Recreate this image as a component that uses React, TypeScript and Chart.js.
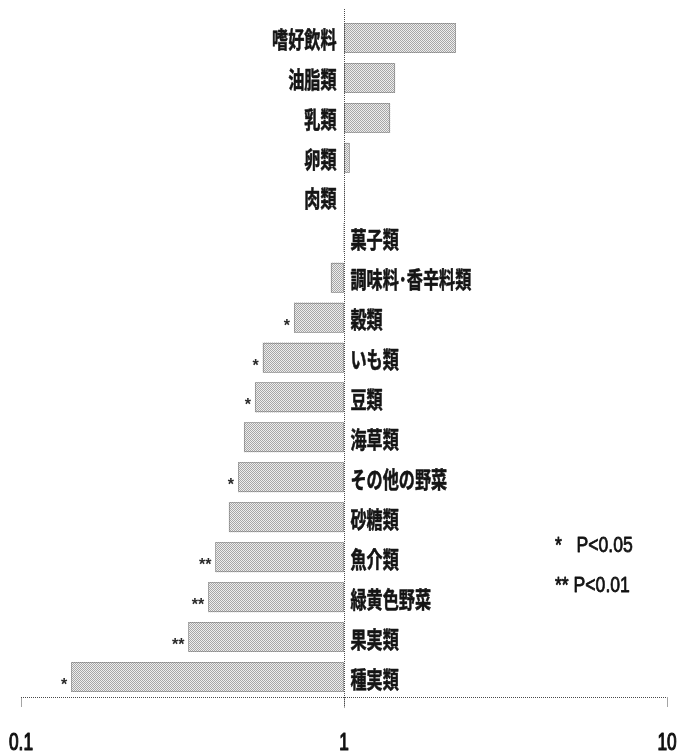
import { useEffect, useRef } from "react";
import { Chart, registerables } from "chart.js";

Chart.register(...registerables);

// Food groups, top to bottom
const categories = [
  "嗜好飲料",
  "油脂類",
  "乳類",
  "卵類",
  "肉類",
  "菓子類",
  "調味料･香辛料類",
  "穀類",
  "いも類",
  "豆類",
  "海草類",
  "その他の野菜",
  "砂糖類",
  "魚介類",
  "緑黄色野菜",
  "果実類",
  "種実類",
];

// Ratio against the reference group (1 = no difference)
const ratios = [
  2.22, 1.44, 1.39, 1.04, 1.005, 0.995, 0.91, 0.7, 0.56, 0.53, 0.49, 0.47,
  0.44, 0.4, 0.38, 0.33, 0.143,
];

// Significance markers per food group
const significance = [
  "", "", "", "", "", "", "", "*", "*", "*", "", "*", "", "**", "**", "**", "*",
];

const tickValues = [0.1, 1, 10];
const referenceValue = 1;

const legendLines = ["*   P<0.05", "** P<0.01"];

const W = 677;
const H = 755;

function makeStipple(): CanvasPattern | string {
  const c = document.createElement("canvas");
  c.width = 2;
  c.height = 2;
  const g = c.getContext("2d");
  if (!g) return "#c8c8c8";
  g.fillStyle = "#eeeeee";
  g.fillRect(0, 0, 2, 2);
  g.fillStyle = "#a6a6a6";
  g.fillRect(0, 0, 1, 1);
  g.fillRect(1, 1, 1, 1);
  const p = g.createPattern(c, "repeat");
  return p || "#c8c8c8";
}

// Text squeezed horizontally, optionally thickened with a thin outline
function squeezedText(
  ctx: CanvasRenderingContext2D,
  text: string,
  x: number,
  y: number,
  sx: number,
  align: CanvasTextAlign,
  baseline: CanvasTextBaseline,
  thicken = 0
) {
  ctx.save();
  ctx.translate(x, y);
  ctx.scale(sx, 1);
  ctx.textAlign = align;
  ctx.textBaseline = baseline;
  ctx.fillText(text, 0, 0);
  if (thicken > 0) {
    ctx.lineWidth = thicken;
    ctx.strokeStyle = ctx.fillStyle as string;
    ctx.lineJoin = "round";
    ctx.strokeText(text, 0, 0);
  }
  ctx.restore();
}

const decorPlugin = {
  id: "decor",
  afterDatasetsDraw(chart: any) {
    const { ctx, chartArea } = chart;
    const xs = chart.scales.x;
    const meta = chart.getDatasetMeta(0);
    const xRef = Math.round(xs.getPixelForValue(referenceValue)) + 0.5;
    const axisY = Math.round(chartArea.bottom) + 0.5;

    ctx.save();

    // dotted outline around each bar
    ctx.strokeStyle = "#6e6e6e";
    ctx.lineWidth = 1;
    ctx.setLineDash([1, 1]);
    meta.data.forEach((bar: any) => {
      const { x, y, base, height } = bar.getProps(["x", "y", "base", "height"], true);
      const left = Math.min(x, base);
      const w = Math.abs(x - base);
      if (w < 2) return;
      ctx.strokeRect(
        Math.round(left) + 0.5,
        Math.round(y - height / 2) + 0.5,
        Math.round(w) - 1,
        Math.round(height) - 1
      );
    });

    // reference line at 1 and the bottom axis
    ctx.strokeStyle = "#4a4a4a";
    ctx.beginPath();
    ctx.moveTo(xRef, chartArea.top - 9);
    ctx.lineTo(xRef, axisY + 10);
    ctx.moveTo(xs.getPixelForValue(tickValues[0]), axisY);
    ctx.lineTo(xs.getPixelForValue(tickValues[tickValues.length - 1]), axisY);
    tickValues.forEach((v) => {
      const px = Math.round(xs.getPixelForValue(v)) + 0.5;
      ctx.moveTo(px, axisY);
      ctx.lineTo(px, axisY + 10);
    });
    ctx.stroke();
    ctx.setLineDash([]);

    // tick labels
    ctx.fillStyle = "#111";
    ctx.font = "24px 'Liberation Sans', 'DejaVu Sans', sans-serif";
    tickValues.forEach((v) => {
      squeezedText(ctx, String(v), xs.getPixelForValue(v), axisY + 46, 0.72, "center", "middle", 1.2);
    });

    // category labels beside the reference line
    ctx.fillStyle = "#151515";
    ctx.font = "bold 23px 'Noto Sans CJK JP', sans-serif";
    meta.data.forEach((bar: any, i: number) => {
      const { y } = bar.getProps(["y"], true);
      if (ratios[i] > referenceValue) {
        squeezedText(ctx, categories[i], xRef - 8, y + 1, 0.7, "right", "middle", 0.6);
      } else {
        squeezedText(ctx, categories[i], xRef + 6, y + 2, 0.7, "left", "middle", 0.6);
      }
    });

    // significance asterisks at the outer end of each bar
    ctx.fillStyle = "#2a2a2a";
    ctx.font = "bold 16px 'Liberation Sans', sans-serif";
    meta.data.forEach((bar: any, i: number) => {
      const mark = significance[i];
      if (!mark) return;
      const { x, y, base } = bar.getProps(["x", "y", "base"], true);
      const left = Math.min(x, base);
      ctx.textAlign = "right";
      ctx.textBaseline = "alphabetic";
      ctx.fillText(mark, left - 4, y + 13);
    });

    // significance key
    ctx.fillStyle = "#111";
    ctx.font = "22px 'Liberation Sans', sans-serif";
    legendLines.forEach((line, k) => {
      squeezedText(ctx, line, chartArea.right - 112, 546 + k * 40, 0.8, "left", "middle", 0.8);
    });

    ctx.restore();
  },
};

export default function App() {
  const canvasRef = useRef<HTMLCanvasElement | null>(null);

  useEffect(() => {
    const canvas = canvasRef.current;
    if (!canvas) return;
    const chart = new Chart(canvas, {
      type: "bar",
      data: {
        labels: categories,
        datasets: [
          {
            data: ratios.map((v) => [referenceValue, v]) as any,
            backgroundColor: makeStipple() as any,
            borderWidth: 0,
            barPercentage: 0.75,
            categoryPercentage: 1,
          },
        ],
      },
      options: {
        indexAxis: "y",
        responsive: false,
        animation: false,
        layout: { padding: { left: 21, right: 10, top: 18, bottom: 58 } },
        plugins: {
          legend: { display: false },
          tooltip: { enabled: false },
        },
        scales: {
          x: {
            type: "logarithmic",
            min: 0.1,
            max: 10,
            display: false,
          },
          y: {
            type: "category",
            display: false,
          },
        },
      },
      plugins: [decorPlugin],
    });
    return () => chart.destroy();
  }, []);

  return (
    <div style={{ position: "absolute", left: 0, top: 0, width: W, height: H, background: "#fff" }}>
      <canvas ref={canvasRef} width={W} height={H} style={{ display: "block" }} />
    </div>
  );
}
